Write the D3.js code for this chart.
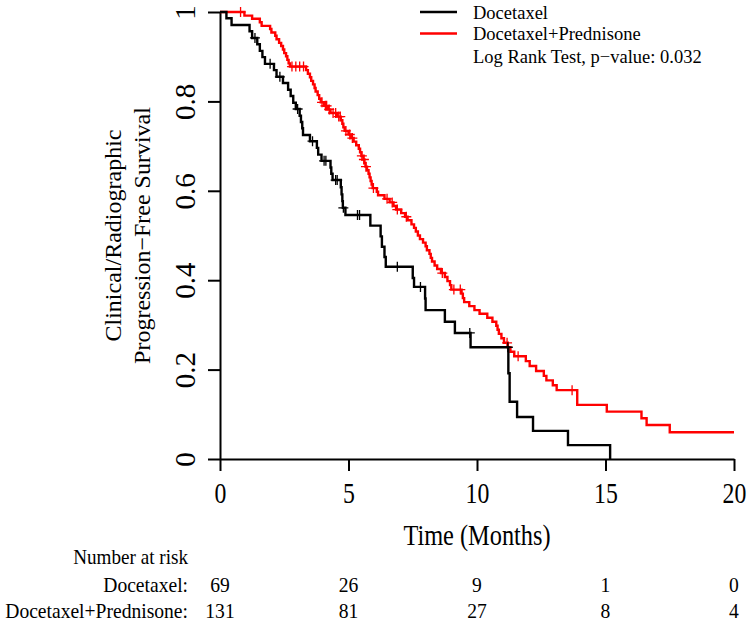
<!DOCTYPE html>
<html>
<head>
<meta charset="utf-8">
<script src="https://cdn.jsdelivr.net/npm/d3@7"></script>
<style>
  body { margin: 0; background: #fff; }
  svg { display: block; font-family: "Liberation Serif", "Times New Roman", serif; }
  .axis path, .axis line { stroke: #000; stroke-width: 2; }
  .axis text { font-size: 29px; fill: #000; font-family: "Liberation Serif", serif; }
</style>
</head>
<body>
<svg id="chart" width="750" height="629"></svg>
<script>
// tick labels
const months = [0, 5, 10, 15, 20];
const survTicks = [0, 0.2, 0.4, 0.6, 0.8, 1];

// Docetaxel: event times and survival after each drop
const docTimes = [0.25, 0.45, 1.15, 1.25, 1.45, 1.55, 1.65, 1.75, 2.1, 2.2, 2.45, 2.65, 2.75, 2.85, 2.95,
  3.1, 3.15, 3.2, 3.23, 3.5, 3.77, 3.82, 3.95, 4.3, 4.33, 4.38, 4.7, 4.73, 4.76, 4.78, 4.88,
  5.85, 6.25, 6.3, 6.4, 6.45, 7.5, 7.55, 7.98, 8.0, 8.75, 9.14, 9.75, 11.22, 11.27, 11.56, 12.18, 13.54, 15.18];
const docSurv = [0.986, 0.971, 0.957, 0.942, 0.928, 0.913, 0.899, 0.884, 0.870, 0.855, 0.841, 0.826, 0.812, 0.797, 0.783,
  0.768, 0.754, 0.740, 0.725, 0.711, 0.696, 0.681, 0.667, 0.652, 0.638, 0.624, 0.608, 0.592, 0.577, 0.562, 0.546,
  0.522, 0.498, 0.475, 0.452, 0.430, 0.405, 0.385, 0.359, 0.333, 0.307, 0.282, 0.250, 0.192, 0.128, 0.094, 0.063, 0.031, 0];
const docCensor = [1.36, 1.95, 2.33, 3.02, 3.6, 4.05, 4.12, 4.5, 4.56, 4.8, 5.35, 5.43, 6.9, 7.8, 9.72, 11.2];

// Docetaxel+Prednisone
const dpTimes = [0.95, 1.25, 1.55, 1.62, 1.95, 2.0, 2.15, 2.2, 2.3, 2.38, 2.45, 2.5, 2.57, 2.62, 2.67, 2.72,
  3.35, 3.42, 3.5, 3.55, 3.62, 3.68, 3.72, 3.8, 3.86, 3.92, 4.05, 4.2, 4.3, 4.55, 4.7, 4.76, 4.8, 4.85,
  5.0, 5.1, 5.2, 5.3, 5.4, 5.45, 5.5, 5.58, 5.62, 5.66, 5.72, 5.78, 5.82, 5.86, 5.9, 5.94, 6.1, 6.15,
  6.4, 6.6, 6.75, 6.85, 7.05, 7.2, 7.3, 7.45, 7.55, 7.62, 7.7, 7.78, 7.9, 8.0, 8.05, 8.15, 8.2, 8.25,
  8.35, 8.45, 8.6, 8.75, 8.85, 8.95, 9.0, 9.4, 9.45, 9.5, 9.7, 9.9, 10.1, 10.4, 10.6, 10.75, 10.8, 10.85,
  10.95, 11.05, 11.2, 11.3, 11.45, 11.9, 12.05, 12.3, 12.6, 12.7, 12.95, 13.1, 13.9, 15.05, 16.4, 16.6, 17.5];
const dpSurv = [0.992, 0.985, 0.977, 0.969, 0.962, 0.954, 0.947, 0.939, 0.931, 0.924, 0.916, 0.908, 0.901, 0.893, 0.885, 0.878,
  0.870, 0.862, 0.854, 0.846, 0.838, 0.830, 0.822, 0.814, 0.806, 0.798, 0.790, 0.782, 0.774, 0.766, 0.758, 0.750, 0.742, 0.734,
  0.726, 0.718, 0.710, 0.702, 0.694, 0.686, 0.678, 0.670, 0.662, 0.654, 0.646, 0.638, 0.630, 0.622, 0.614, 0.606, 0.598, 0.590,
  0.582, 0.574, 0.566, 0.558, 0.550, 0.542, 0.534, 0.525, 0.517, 0.509, 0.500, 0.492, 0.484, 0.476, 0.467, 0.459, 0.450, 0.442,
  0.433, 0.425, 0.416, 0.407, 0.398, 0.389, 0.379, 0.370, 0.360, 0.351, 0.342, 0.333, 0.325, 0.316, 0.307, 0.298, 0.289, 0.280,
  0.270, 0.260, 0.250, 0.240, 0.230, 0.219, 0.208, 0.197, 0.186, 0.176, 0.165, 0.154, 0.121, 0.106, 0.091, 0.076, 0.060];
const dpCensor = [0.8, 2.8, 2.95, 3.1, 3.25, 3.97, 4.1, 4.15, 4.25, 4.4, 4.5, 4.62, 4.68, 4.9, 5.05, 5.15,
  5.52, 5.6, 5.68, 5.97, 6.5, 6.7, 6.9, 7.25, 8.65, 9.1, 9.35, 11.17, 11.6, 13.7];

// number at risk table
const riskDoc = [69, 26, 9, 1, 0];
const riskDP = [131, 81, 27, 8, 4];

const svg = d3.select("#chart");

const x = d3.scaleLinear().domain([0, 20]).range([220, 734]);
const y = d3.scaleLinear().domain([0, 1]).range([459, 12]);

// axes
const xAxis = svg.append("g")
    .attr("class", "axis")
    .attr("transform", `translate(0,${y(0)})`)
    .call(d3.axisBottom(x).tickValues(months).tickSize(12).tickSizeOuter(0));
xAxis.selectAll("text")
    .attr("y", 23)
    .attr("transform", "scale(0.82,1)");

const yAxis = svg.append("g")
    .attr("class", "axis")
    .attr("transform", `translate(${x(0)},0)`)
    .call(d3.axisLeft(y).tickValues(survTicks).tickSize(12).tickSizeOuter(0).tickFormat(d => String(d)));
yAxis.selectAll("text")
    .attr("x", null).attr("dy", null)
    .attr("text-anchor", "middle")
    .attr("transform", "translate(-25,0) rotate(-90)");

// step function helper
function stepPoints(times, surv, end) {
    const pts = [[0, 1]];
    times.forEach((t, k) => pts.push([t, surv[k]]));
    if (end !== undefined) pts.push([end, surv[surv.length - 1]]);
    return pts;
}
function survAt(times, surv, t) {
    const k = d3.bisectRight(times, t);
    return k === 0 ? 1 : surv[k - 1];
}

const line = d3.line()
    .x(d => x(d[0]))
    .y(d => y(d[1]))
    .curve(d3.curveStepAfter);

const groups = [
    { times: dpTimes, surv: dpSurv, censor: dpCensor, end: 20, color: "#ff0000" },
    { times: docTimes, surv: docSurv, censor: docCensor, end: undefined, color: "#000000" }
];

groups.forEach(g => {
    svg.append("path")
        .attr("d", line(stepPoints(g.times, g.surv, g.end)))
        .attr("fill", "none")
        .attr("stroke", g.color)
        .attr("stroke-width", 2.4);

    svg.append("g").selectAll("path")
        .data(g.censor)
        .join("path")
        .attr("d", t => {
            const cx = x(t), cy = y(survAt(g.times, g.surv, t));
            return `M${cx - 5},${cy}h10M${cx},${cy - 5}v10`;
        })
        .attr("stroke", g.color)
        .attr("stroke-width", 1.3);
});

// squeezed text helper (reference text is narrow)
function label(tx, ty, str, size, sx, anchor) {
    return svg.append("text")
        .attr("transform", `translate(${tx},${ty}) scale(${sx},1)`)
        .attr("text-anchor", anchor || "start")
        .style("font-size", size + "px")
        .text(str);
}

// axis titles
label((x(0) + x(20)) / 2, 545, "Time (Months)", 29, 0.84, "middle");

const yMid = (y(0) + y(1)) / 2;
svg.append("text")
    .attr("transform", `translate(121,${yMid}) rotate(-90)`)
    .attr("text-anchor", "middle")
    .style("font-size", "24px")
    .text("Clinical/Radiographic");
svg.append("text")
    .attr("transform", `translate(150,${yMid}) rotate(-90)`)
    .attr("text-anchor", "middle")
    .style("font-size", "24px")
    .text("Progression\u2212Free Survival");

// legend
const legend = [
    { label: "Docetaxel", color: "#000000" },
    { label: "Docetaxel+Prednisone", color: "#ff0000" }
];
legend.forEach((d, k) => {
    const ly = 12 + k * 21.5;
    svg.append("line")
        .attr("x1", 420).attr("x2", 457)
        .attr("y1", ly).attr("y2", ly)
        .attr("stroke", d.color)
        .attr("stroke-width", 2.4);
    svg.append("text")
        .attr("x", 473).attr("y", ly + 6.5)
        .style("font-size", "18.5px")
        .text(d.label);
});
svg.append("text")
    .attr("x", 473).attr("y", 63)
    .style("font-size", "18.5px")
    .text("Log Rank Test, p\u2212value: 0.032");

// number at risk
label(188, 564, "Number at risk", 22, 0.87, "end");

const rows = [
    { label: "Docetaxel:", values: riskDoc, yPos: 592 },
    { label: "Docetaxel+Prednisone:", values: riskDP, yPos: 618 }
];
rows.forEach(r => {
    label(188, r.yPos, r.label, 22, 0.89, "end");
    r.values.forEach((v, k) => label(x(months[k]), r.yPos, v, 22, 0.89, "middle"));
});
</script>
</body>
</html>
